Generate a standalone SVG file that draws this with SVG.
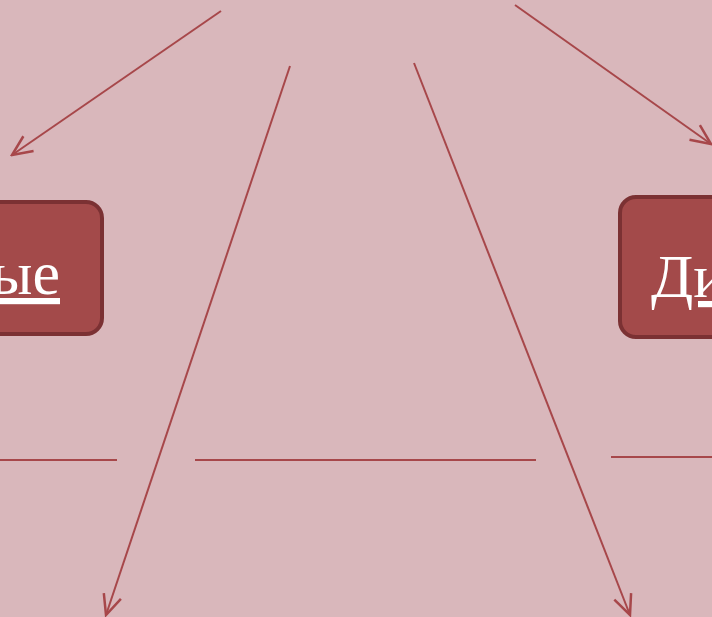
<svg xmlns="http://www.w3.org/2000/svg" width="712" height="617" viewBox="0 0 712 617">
<defs>
<marker id="ah" viewBox="0 0 24 24" refX="22" refY="12" markerWidth="24" markerHeight="24" markerUnits="userSpaceOnUse" orient="auto">
<path d="M2,3 L22,12 L2,21" fill="none" stroke="#a7474a" stroke-width="2.5"/>
</marker>
<style>
.c{stroke:#a7474a;stroke-width:2;fill:none}
.box{fill:#a34a4a;stroke:#7b3133;stroke-width:4}
.t{font-family:"Liberation Serif","Times New Roman",serif;font-size:62px;fill:#ffffff;text-decoration:underline}
</style>
</defs>
<rect width="712" height="617" fill="#d9b7bb"/>
<g id="connectors">
<line class="c" x1="221" y1="11" x2="12" y2="155" marker-end="url(#ah)"/>
<line class="c" x1="290" y1="66" x2="106" y2="615" marker-end="url(#ah)"/>
<line class="c" x1="414" y1="63" x2="630" y2="615" marker-end="url(#ah)"/>
<line class="c" x1="515" y1="5" x2="711" y2="144" marker-end="url(#ah)"/>
<line class="c" x1="0" y1="460" x2="117" y2="460"/>
<line class="c" x1="195" y1="460" x2="536" y2="460"/>
<line class="c" x1="611" y1="457" x2="712" y2="457"/>
</g>
<g id="node-left">
<rect class="box" x="-60" y="202" width="162" height="132" rx="16"/>
<text class="t" x="60" y="294" text-anchor="end">ые</text>
</g>
<g id="node-right">
<rect class="box" x="620" y="197" width="160" height="140" rx="16"/>
<text class="t" x="651" y="297">Ди</text>
</g>
</svg>
